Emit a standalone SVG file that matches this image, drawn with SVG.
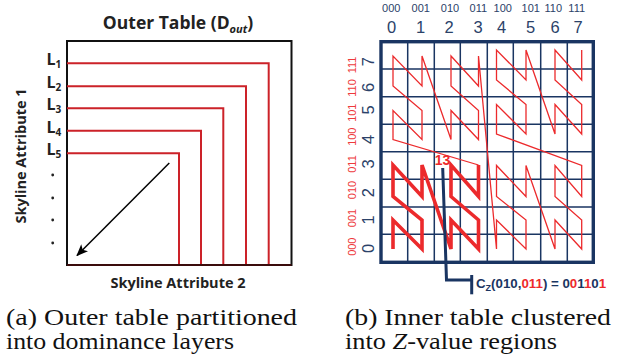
<svg xmlns="http://www.w3.org/2000/svg" width="626" height="360" viewBox="0 0 626 360">
<style>
.hd{font-family:"Open Sans","Liberation Sans",sans-serif;font-weight:bold;fill:#222}
.lay{stroke:#cc2229;stroke-width:2;fill:none}
.cap{font-family:"Liberation Serif","DejaVu Serif",serif;font-size:24px;fill:#111}
.grid{stroke:#1a3562;stroke-width:1.5;fill:none}
.cl{font-family:"Liberation Sans",Arial,sans-serif;fill:#2b4269;text-anchor:middle}
.rl{font-family:"Liberation Sans",Arial,sans-serif;text-anchor:middle}
.z{fill:none;stroke:#ec2a2c;stroke-linejoin:miter}
.nv{font-family:"Liberation Sans",Arial,sans-serif;font-weight:bold;fill:#1a3562}
.rd{fill:#ee2a2c}
</style>
<defs>
<marker id="ah" viewBox="0 0 12 10" refX="11" refY="5" markerWidth="12" markerHeight="10" markerUnits="userSpaceOnUse" orient="auto">
<path d="M0 0 L12 5 L0 10 L3 5 Z" fill="#000"/>
</marker>
</defs>
<rect width="626" height="360" fill="#fff"/>

<g id="panel-a">
<text class="hd" x="178" y="28.5" font-size="17.5" text-anchor="middle">Outer Table (D<tspan font-size="11" font-style="italic" dy="4">out</tspan><tspan dy="-4">)</tspan></text>
<rect x="67" y="41" width="224.5" height="224" fill="none" stroke="#111" stroke-width="2"/>
<g id="layers">
<path class="lay" d="M67 63.3 H268.7 V265"/>
<path class="lay" d="M67 86.3 H246 V265"/>
<path class="lay" d="M67 108.3 H223.3 V265"/>
<path class="lay" d="M67 130.7 H201 V265"/>
<path class="lay" d="M67 153.3 H179 V265"/>
</g>
<line x1="67" y1="265" x2="291.5" y2="265" stroke="#3a0c0c" stroke-width="2.2"/>
<g id="layer-labels" class="hd" font-size="16">
<text x="46.5" y="65">L<tspan font-size="10" dy="3">1</tspan></text>
<text x="46.5" y="87.5">L<tspan font-size="10" dy="3">2</tspan></text>
<text x="46.5" y="110">L<tspan font-size="10" dy="3">3</tspan></text>
<text x="46.5" y="132.5">L<tspan font-size="10" dy="3">4</tspan></text>
<text x="46.5" y="155">L<tspan font-size="10" dy="3">5</tspan></text>
</g>
<g id="dots" fill="#222">
<circle cx="52.7" cy="175" r="1.4"/>
<circle cx="52.7" cy="198" r="1.4"/>
<circle cx="52.7" cy="220" r="1.4"/>
<circle cx="52.7" cy="243" r="1.4"/>
</g>
<line x1="169.3" y1="163" x2="77" y2="255.5" stroke="#000" stroke-width="1.5" marker-end="url(#ah)"/>
<text class="hd" x="178" y="287.5" font-size="14.5" text-anchor="middle">Skyline Attribute 2</text>
<text class="hd" font-size="14.5" text-anchor="middle" transform="translate(26.3,156) rotate(-90)">Skyline Attribute 1</text>
</g>

<g id="panel-b">
<g id="grid">
<path class="grid" d="M407.7 41.7V262.3M434.3 41.7V262.3M460.3 41.7V262.3M487.3 41.7V262.3M513.3 41.7V262.3M540.7 41.7V262.3M567.3 41.7V262.3"/>
<path class="grid" d="M381 69H593.3M381 96.7H593.3M381 124.3H593.3M381 151.7H593.3M381 179.3H593.3M381 207H593.3M381 234.3H593.3"/>
<rect x="381" y="41.7" width="212.3" height="220.6" fill="none" stroke="#1a3562" stroke-width="3.4"/>
</g>
<g id="col-labels" class="cl">
<g font-size="11">
<text x="391.3" y="12">000</text><text x="420.7" y="12">001</text><text x="450" y="12">010</text><text x="478.3" y="12">011</text>
<text x="502.7" y="12">100</text><text x="530.7" y="12">101</text><text x="553.3" y="12">110</text><text x="576.7" y="12">111</text>
</g>
<g font-size="16.5">
<text x="391.7" y="33.3">0</text><text x="420.7" y="33.3">1</text><text x="449" y="33.3">2</text><text x="478" y="33.3">3</text>
<text x="501.7" y="33.3">4</text><text x="530.7" y="33.3">5</text><text x="555" y="33.3">6</text><text x="578" y="33.3">7</text>
</g>
</g>
<g id="row-labels" class="rl">
<g font-size="16.5" fill="#2b4269">
<text transform="translate(373.5,61.7) rotate(-90)">7</text>
<text transform="translate(373.5,87.3) rotate(-90)">6</text>
<text transform="translate(373.5,110) rotate(-90)">5</text>
<text transform="translate(373.5,139.3) rotate(-90)">4</text>
<text transform="translate(373.5,164) rotate(-90)">3</text>
<text transform="translate(373.5,192.7) rotate(-90)">2</text>
<text transform="translate(373.5,220) rotate(-90)">1</text>
<text transform="translate(373.5,248.3) rotate(-90)">0</text>
</g>
<g font-size="11" fill="#ee3a3c">
<text transform="translate(355.5,65) rotate(-90)">111</text>
<text transform="translate(355.5,88) rotate(-90)">110</text>
<text transform="translate(355.5,112.7) rotate(-90)">101</text>
<text transform="translate(355.5,136.7) rotate(-90)">100</text>
<text transform="translate(355.5,164) rotate(-90)">011</text>
<text transform="translate(355.5,190) rotate(-90)">010</text>
<text transform="translate(355.5,218) rotate(-90)">001</text>
<text transform="translate(355.5,246.7) rotate(-90)">000</text>
</g>
</g>
<g id="z-curve">
<polyline class="z" stroke-width="1.3" points="478.5,165 393,139.5 393,110.5 422,139.5 422,110.5 393,86 393,56 422,86 422,56 451,139.5 451,110.5 478.5,139.5 478.5,110.5 451,86 451,56 478.5,86 478.5,56 496.5,249 496.5,220 526,249 526,220 496.5,196.5 496.5,165.5 526,196.5 526,165.5 555,249 555,220 581.7,249 581.7,220 555,196.5 555,165.5 581.7,196.5 581.7,165.5 496.5,134 496.5,104.5 526,134 526,104.5 496.5,80 496.5,50 526,80 526,50 555,134 555,104.5 581.7,134 581.7,104.5 555,80 555,50 581.7,80 581.7,50"/>
<polyline class="z" stroke-width="3.6" points="393,249 393,220 422,249 422,220 393,196.5 393,165 422,196.5 422,165 451,249 451,220 478.5,249 478.5,220 451,196.5 451,165 478.5,196.5 478.5,165"/>
</g>
<g id="callout">
<text x="442.5" y="165" font-family="Liberation Sans,Arial,sans-serif" font-weight="bold" font-size="14" fill="#ee2a2c" text-anchor="middle">13</text>
<path d="M442.7 168 L446.5 280 H471.7" fill="none" stroke="#1a3562" stroke-width="3"/>
<path d="M471.7 275 V294.3" stroke="#1a3562" stroke-width="3"/>
<text class="nv" x="476" y="288.3" font-size="13.3">C<tspan font-size="9" dy="3">Z</tspan><tspan dy="-3">(010,</tspan><tspan class="rd">011</tspan>) = 0<tspan class="rd">0</tspan>1<tspan class="rd">1</tspan>0<tspan class="rd">1</tspan></text>
</g>
</g>

<g id="captions">
<text class="cap" x="6" y="324.5" textLength="291" lengthAdjust="spacingAndGlyphs">(a) Outer table partitioned</text>
<text class="cap" x="6" y="349" textLength="228" lengthAdjust="spacingAndGlyphs">into dominance layers</text>
<text class="cap" x="345" y="324.5" textLength="266" lengthAdjust="spacingAndGlyphs">(b) Inner table clustered</text>
<text class="cap" x="345" y="349" textLength="212" lengthAdjust="spacingAndGlyphs">into <tspan font-style="italic">Z</tspan>-value regions</text>
</g>
</svg>
